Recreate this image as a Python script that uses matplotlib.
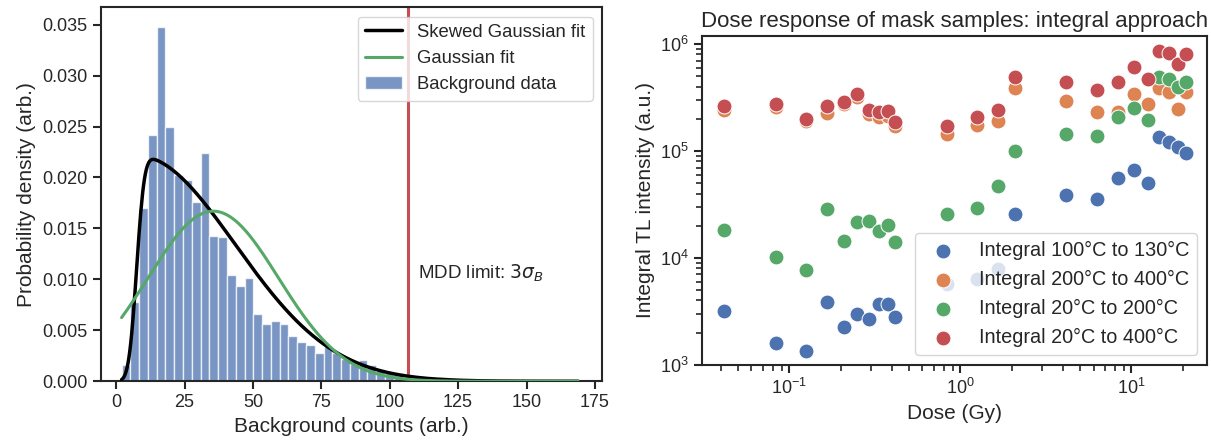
import math
import numpy as np
import matplotlib
matplotlib.use("Agg")
import matplotlib.pyplot as plt
import seaborn as sns

# ---------------------------------------------------------------
# Data
# ---------------------------------------------------------------

# background histogram (density), equal-width bins
BIN_START = 2.0
BIN_WIDTH = 3.21
bg_density = [
    0.00157, 0.00774, 0.01698, 0.02412, 0.03477, 0.02500, 0.02020, 0.01980,
    0.01760, 0.02240, 0.01425, 0.01420, 0.01042, 0.00934, 0.01010, 0.00656,
    0.00560, 0.00593, 0.00560, 0.00449, 0.00386, 0.00354, 0.00282, 0.00347,
    0.00280, 0.00215, 0.00165, 0.00210, 0.00160, 0.00110, 0.00090, 0.00080,
    0.00050, 0.00030, 0.00020, 0.00010, 0.00040, 0.00030, 0.00020, 0.00010,
    0.00005, 0.00010, 0.00010, 0.00000, 0.00005, 0.00010, 0.00003, 0.00000,
    0.00000, 0.00000, 0.00000, 0.00003,
]

# fit parameters
gauss_mu, gauss_sigma = 35.5, 23.9
skew_loc, skew_scale, skew_alpha = 7.5, 36.0, 16.0
mdd_limit = 106.6

# dose response (Gy) and integral TL intensities
dose = [
    1/24, 2/24, 3/24, 4/24, 5/24, 6/24, 7/24, 8/24, 9/24, 10/24,
    20/24, 30/24, 40/24, 50/24, 100/24, 150/24, 200/24, 250/24,
    300/24, 350/24, 400/24, 450/24, 500/24,
]
int_100_130 = [
    3.2e3, 1.6e3, 1.33e3, 3.89e3, 2.25e3, 2.96e3, 2.70e3, 3.67e3, 3.67e3, 2.77e3,
    5.7e3, 6.36e3, 7.9e3, 2.59e4, 3.84e4, 3.57e4, 5.58e4, 6.59e4,
    5.05e4, 1.35e5, 1.21e5, 1.09e5, 9.58e4,
]
int_200_400 = [
    2.41e5, 2.6e5, 1.91e5, 2.29e5, 2.74e5, 3.21e5, 2.21e5, 2.06e5, 2.11e5, 1.71e5,
    1.44e5, 1.74e5, 1.9e5, 3.85e5, 2.92e5, 2.32e5, 2.32e5, 3.45e5,
    2.74e5, 3.85e5, 3.57e5, 2.46e5, 3.53e5,
]
int_20_200 = [
    1.83e4, 1.01e4, 7.65e3, 2.84e4, 1.43e4, 2.16e4, 2.2e4, 1.8e4, 2.05e4, 1.4e4,
    2.59e4, 2.92e4, 4.7e4, 1.0e5, 1.44e5, 1.37e5, 2.08e5, 2.5e5,
    1.94e5, 4.94e5, 4.68e5, 3.98e5, 4.44e5,
]
int_20_400 = [
    2.63e5, 2.74e5, 1.98e5, 2.63e5, 2.88e5, 3.45e5, 2.41e5, 2.32e5, 2.35e5, 1.87e5,
    1.71e5, 2.06e5, 2.41e5, 4.89e5, 4.39e5, 3.71e5, 4.39e5, 6.05e5,
    4.68e5, 8.67e5, 8.3e5, 6.45e5, 8.07e5,
]
series_labels = [
    "Integral 100°C to 130°C",
    "Integral 200°C to 400°C",
    "Integral 20°C to 200°C",
    "Integral 20°C to 400°C",
]


def normal_pdf(x, mu, sigma):
    return np.exp(-0.5 * ((x - mu) / sigma) ** 2) / (sigma * np.sqrt(2 * np.pi))


def skewnorm_pdf(x, loc, scale, a):
    z = (x - loc) / scale
    cdf = 0.5 * (1 + np.vectorize(math.erf)(a * z / np.sqrt(2)))
    return 2 / scale * normal_pdf(z, 0, 1) * cdf


# ---------------------------------------------------------------
# Style
# ---------------------------------------------------------------

sns.set_style("ticks")
plt.rcParams["font.family"] = ["Liberation Sans", "DejaVu Sans"]
plt.rcParams["axes.edgecolor"] = ".15"
plt.rcParams["axes.linewidth"] = 1.5
plt.rcParams["xtick.major.width"] = 1.5
plt.rcParams["ytick.major.width"] = 1.5
plt.rcParams["xtick.minor.width"] = 1.2
plt.rcParams["ytick.minor.width"] = 1.2
plt.rcParams["xtick.major.size"] = 6
plt.rcParams["ytick.major.size"] = 6
plt.rcParams["xtick.minor.size"] = 4
plt.rcParams["ytick.minor.size"] = 4

FS_TICK = 13
FS_LABEL = 15
palette = sns.color_palette("deep")

fig = plt.figure(figsize=(12.11, 4.46), dpi=100)
ax1 = fig.add_axes([0.083, 0.1451, 0.4139, 0.8386])
ax2 = fig.add_axes([0.580, 0.1823, 0.4168, 0.7377])

# ---------------------------------------------------------------
# Left: histogram with fits
# ---------------------------------------------------------------

edges = BIN_START + BIN_WIDTH * np.arange(len(bg_density))
ax1.bar(edges, bg_density, width=BIN_WIDTH, align="edge", color=palette[0],
        alpha=0.75, edgecolor="white", linewidth=1.0, label="Background data")

x_fit = np.linspace(BIN_START, BIN_START + BIN_WIDTH * len(bg_density), 500)
ax1.plot(x_fit, skewnorm_pdf(x_fit, skew_loc, skew_scale, skew_alpha),
         color="black", lw=2.5, label="Skewed Gaussian fit", zorder=3)
ax1.plot(x_fit, normal_pdf(x_fit, gauss_mu, gauss_sigma),
         color=palette[2], lw=2.2, label="Gaussian fit", zorder=3)
ax1.axvline(mdd_limit, color=palette[3], lw=2.2, zorder=2)
ax1.text(mdd_limit + 3.7, 0.0106, r"MDD limit: $3\sigma_B$", fontsize=13.5,
         va="center", ha="left")

ax1.set_xlim(-5.7, 177.5)
ax1.set_ylim(0, 0.0367)
ax1.set_xticks(np.arange(0, 176, 25))
ax1.set_yticks(np.arange(0, 0.0351, 0.005))
ax1.yaxis.set_major_formatter(matplotlib.ticker.FormatStrFormatter("%.3f"))
ax1.tick_params(labelsize=FS_TICK)
ax1.set_xlabel("Background counts (arb.)", fontsize=FS_LABEL)
ax1.set_ylabel("Probability density (arb.)", fontsize=FS_LABEL)
ax1.legend(loc="upper right", fontsize=13.3)

# ---------------------------------------------------------------
# Right: dose response
# ---------------------------------------------------------------

for vals, lab, col in zip([int_100_130, int_200_400, int_20_200, int_20_400],
                          series_labels, palette[:4]):
    ax2.scatter(dose, vals, s=115, color=col, edgecolor="white",
                linewidth=0.7, label=lab, zorder=3)

ax2.set_xscale("log")
ax2.set_yscale("log")
ax2.set_xlim(0.031, 27.7)
ax2.set_ylim(1.0e3, 1.2e6)
ax2.tick_params(which="both", labelsize=FS_TICK)
ax2.set_xlabel("Dose (Gy)", fontsize=FS_LABEL)
ax2.set_ylabel("Integral TL intensity (a.u.)", fontsize=FS_LABEL)
ax2.set_title("Dose response of mask samples: integral approach", fontsize=16)
ax2.legend(loc="lower right", fontsize=14.3)

fig.savefig("out.png", dpi=100)
